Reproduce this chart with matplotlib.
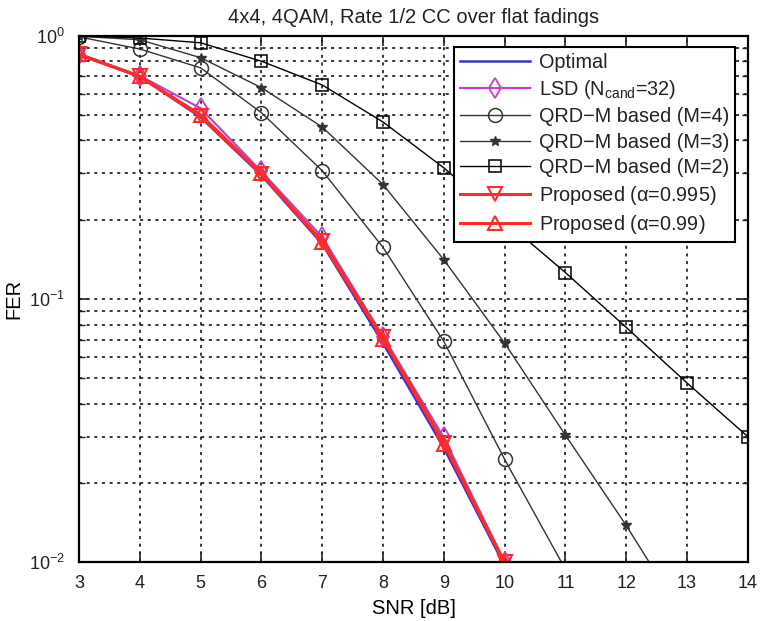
import numpy as np
import matplotlib.pyplot as plt
from matplotlib.ticker import LogLocator, NullFormatter

plt.rcParams['font.family'] = ['Liberation Sans', 'DejaVu Sans']
plt.rcParams['mathtext.default'] = 'regular'
plt.rcParams['text.color'] = '#222222'
plt.rcParams['xtick.color'] = '#222222'
plt.rcParams['ytick.color'] = '#222222'

# FER vs SNR, 4x4 4QAM with rate 1/2 convolutional code
snr_opt = [3, 4, 5, 6, 7, 8, 9, 10]
fer_optimal = [0.845, 0.70, 0.49, 0.295, 0.162, 0.068, 0.0272, 0.0097]
fer_lsd = [0.85, 0.705, 0.53, 0.305, 0.172, 0.072, 0.0298, 0.0100]
fer_prop995 = [0.85, 0.70, 0.495, 0.298, 0.166, 0.0715, 0.0285, 0.0100]
fer_prop99 = [0.85, 0.70, 0.50, 0.300, 0.164, 0.0705, 0.0282, 0.0099]

snr_m4 = [3, 4, 5, 6, 7, 8, 9, 10, 11]
fer_m4 = [0.99, 0.89, 0.755, 0.51, 0.307, 0.157, 0.069, 0.0246, 0.0094]

snr_m3 = [3, 4, 5, 6, 7, 8, 9, 10, 11, 12, 13]
fer_m3 = [0.995, 0.965, 0.825, 0.635, 0.45, 0.272, 0.141, 0.068, 0.0304, 0.0138, 0.0059]

snr_m2 = [3, 4, 5, 6, 7, 8, 9, 10, 11, 12, 13, 14]
fer_m2 = [0.998, 0.98, 0.94, 0.80, 0.65, 0.47, 0.315, 0.198, 0.126, 0.078, 0.048, 0.030]

fig = plt.figure(figsize=(7.6, 6.21), dpi=100)
ax = fig.add_axes([0.104, 0.0945, 0.880, 0.848])

ax.semilogy(snr_opt, fer_optimal, '-', color='#3535c8', lw=1.8, label='Optimal')
ax.semilogy(snr_opt, fer_lsd, '-d', color='#c040c8', lw=1.5, ms=10, mfc='none',
            mew=1.3, label=r'LSD (N$_{cand}$=32)')
ax.semilogy(snr_m4, fer_m4, '-o', color='#333333', lw=1.0, ms=10, mfc='none',
            mew=1.1, label='QRD\u2212M based (M=4)')
ax.semilogy(snr_m3, fer_m3, '-*', color='#333333', lw=1.0, ms=7,
            label='QRD\u2212M based (M=3)')
ax.semilogy(snr_m2, fer_m2, '-s', color='black', lw=1.0, ms=9, mfc='none',
            mew=1.1, label='QRD\u2212M based (M=2)')
ax.semilogy(snr_opt, fer_prop995, '-v', color='#ff2a2a', lw=2.2, ms=10, mfc='none',
            mew=1.5, label=r'Proposed ($\alpha$=0.995)')
ax.semilogy(snr_opt, fer_prop99, '-^', color='#ff2a2a', lw=2.2, ms=10, mfc='none',
            mew=1.5, label=r'Proposed ($\alpha$=0.99)')

ax.set_xlim(3, 14)
ax.set_ylim(0.01, 1)
ax.set_xticks(range(3, 15))
ax.yaxis.set_major_locator(LogLocator(base=10))
ax.yaxis.set_minor_locator(LogLocator(base=10, subs=np.arange(2, 10)))
ax.yaxis.set_minor_formatter(NullFormatter())

ax.grid(True, which='major', color='black', linestyle=(0, (2, 3)), lw=1.1)
ax.grid(True, which='minor', axis='y', color='black', linestyle=(0, (2, 3)), lw=1.1)
ax.tick_params(which='both', direction='in', top=True, right=True, labelsize=13)
ax.tick_params(axis='x', pad=9)
ax.tick_params(axis='y', pad=10)
ax.tick_params(which='major', length=7, width=1.2)
ax.tick_params(which='minor', length=4, width=1.0)
for s in ax.spines.values():
    s.set_linewidth(1.6)

ax.set_title('4x4, 4QAM, Rate 1/2 CC over flat fadings', fontsize=14.5, pad=9)
ax.set_xlabel('SNR [dB]', fontsize=14.5, labelpad=5)
ax.set_ylabel('FER', fontsize=14.5, labelpad=4)

leg = ax.legend(loc='upper right', bbox_to_anchor=(0.981, 0.979), fontsize=14.3,
                fancybox=False, framealpha=1, edgecolor='black', handlelength=3.5,
                labelspacing=0.32, borderpad=0.3, handletextpad=0.45,
                borderaxespad=0)
leg.get_frame().set_linewidth(1.5)

fig.savefig('out.png', dpi=100)
